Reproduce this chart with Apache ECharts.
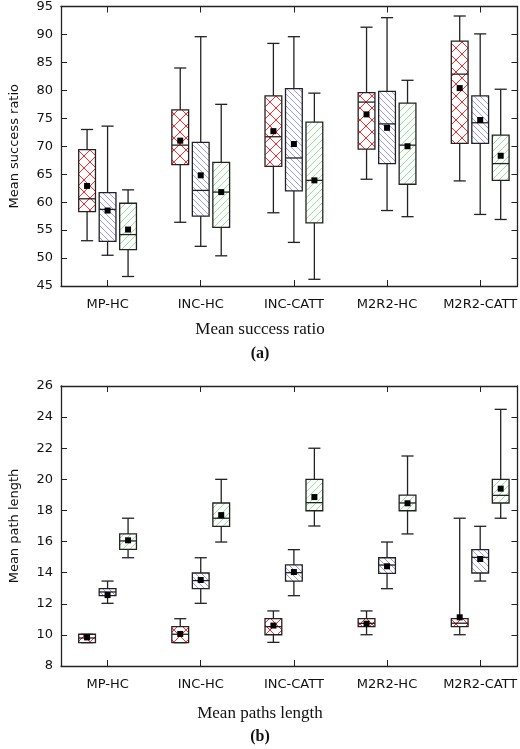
<!DOCTYPE html>
<html><head><meta charset="utf-8">
<script src="https://cdn.jsdelivr.net/npm/echarts@6/dist/echarts.min.js"></script>
<style>html,body{margin:0;padding:0;background:#fff}#c{width:520px;height:749px}</style>
</head><body><div id="c"></div>
<script>
const categories = ['MP-HC','INC-HC','INC-CATT','M2R2-HC','M2R2-CATT'];
// each: [min, q1, median, q3, max, mean] for methods A (red), B (blue), C (green)
const ratioA = [[53.1,58.3,60.6,69.4,73.0,62.9],[56.4,66.7,70.2,76.5,84.0,71.0],[58.1,66.4,71.7,79.0,88.4,72.7],[64.1,69.5,77.9,79.6,91.3,75.7],[63.8,70.5,82.9,88.8,93.3,80.4]];
const ratioB = [[50.5,53.0,58.7,61.7,73.6,58.5],[52.1,57.5,62.1,70.7,89.6,64.8],[52.8,62.0,67.9,80.3,89.6,70.4],[58.5,66.9,74.0,79.8,93.0,73.3],[57.8,70.5,74.2,79.0,90.1,74.7]];
const ratioC = [[46.7,51.5,54.2,59.8,62.2,55.1],[50.4,55.5,61.8,67.1,77.5,61.8],[46.2,56.3,63.9,74.3,79.5,63.9],[57.4,63.2,70.2,77.7,81.8,70.0],[56.9,63.9,66.9,72.0,80.2,68.3]];
const lenA = [[9.5,9.5,9.8,10.04,10.04,9.84],[9.5,9.5,10.04,10.53,11.04,10.06],[9.52,10.01,10.53,11.04,11.54,10.6],[10.01,10.53,10.74,11.04,11.54,10.72],[10.01,10.53,10.75,11.04,17.5,11.13]];
const lenB = [[12.03,12.52,12.76,12.97,13.46,12.56],[12.03,12.97,13.49,13.98,14.96,13.53],[12.52,13.46,14.0,14.5,15.48,14.04],[12.97,13.96,14.49,14.96,15.97,14.41],[13.46,13.98,14.98,15.48,16.98,14.88]];
const lenC = [[14.96,15.5,16.04,16.49,17.5,16.08],[15.97,16.98,17.5,18.48,20.0,17.7],[17.0,17.98,18.5,20.0,22.0,18.86],[16.49,17.98,18.48,18.99,21.5,18.46],[17.5,18.48,18.97,20.0,24.5,19.4]];
const ratioTicks = [45,50,55,60,65,70,75,80,85,90,95];
const lenTicks = [8,10,12,14,16,18,20,22,24,26];

function pat(kind){
  const c=document.createElement('canvas');
  let n = kind==='x'?12:(kind==='b'?6:7);
  c.width=n;c.height=n;const g=c.getContext('2d');
  g.lineWidth=1;
  g.strokeStyle = kind==='x'?'#ff2a2a':(kind==='b'?'#9a9af0':'#8fe88f');
  g.beginPath();
  if(kind==='x'||kind==='b'){g.moveTo(-1,-1);g.lineTo(n+1,n+1);}
  if(kind==='x'||kind==='g'){g.moveTo(-1,n+1);g.lineTo(n+1,-1);}
  g.stroke();
  return {image:c,repeat:'repeat'};
}
const pats={x:pat('x'),b:pat('b'),g:pat('g')};
const offs=[-0.22,0,0.22];

function mk(arr,k,grid){
  return {type:'custom',xAxisIndex:grid*2,yAxisIndex:grid*2,
    data:arr.map((d,i)=>[i+offs[k]].concat(d)),
    renderItem:function(p,api){
      const x=api.value(0);
      const w=api.size([0.18,0])[0], cw=api.size([0.13,0])[0];
      const P=j=>api.coord([x,api.value(j)]);
      const mn=P(1),q1=P(2),md=P(3),q3=P(4),mx=P(5),me=P(6);
      const cx=mn[0];const ls={stroke:'#222',lineWidth:1.3,fill:null};
      return {type:'group',children:[
        {type:'line',shape:{x1:cx,y1:mx[1],x2:cx,y2:q3[1]},style:ls},
        {type:'line',shape:{x1:cx,y1:q1[1],x2:cx,y2:mn[1]},style:ls},
        {type:'line',shape:{x1:cx-cw/2,y1:mx[1],x2:cx+cw/2,y2:mx[1]},style:ls},
        {type:'line',shape:{x1:cx-cw/2,y1:mn[1],x2:cx+cw/2,y2:mn[1]},style:ls},
        {type:'rect',shape:{x:cx-w/2,y:q3[1],width:w,height:q1[1]-q3[1]},style:{fill:pats[['x','b','g'][k]],stroke:'#222',lineWidth:1.3}},
        {type:'line',shape:{x1:cx-w/2,y1:md[1],x2:cx+w/2,y2:md[1]},style:ls},
        {type:'rect',shape:{x:cx-3,y:me[1]-3,width:6,height:6},style:{fill:'#000'}}
      ]};
    }};
}
const lbl={fontFamily:'DejaVu Sans',fontSize:13,color:'#111'};
const line={show:true,onZero:false,lineStyle:{color:'#222',width:1.3}};
function axes(grid,ymin,ymax,yint,name){
  const xb={type:'value',gridIndex:grid,min:-0.5,max:4.4,axisLine:line,splitLine:{show:false}};
  const yb={type:'value',gridIndex:grid,min:ymin,max:ymax,interval:yint,axisLine:line,splitLine:{show:false}};
  return {
    x:[Object.assign({},xb,{position:'bottom',
        axisTick:{inside:true,length:6,customValues:[0,1,2,3,4],lineStyle:{color:'#222'}},
        axisLabel:Object.assign({customValues:[0,1,2,3,4],margin:12,formatter:v=>categories[Math.round(v)]},lbl)}),
       Object.assign({},xb,{position:'top',
        axisTick:{inside:true,length:6,customValues:[0,1,2,3,4],lineStyle:{color:'#222'}},axisLabel:{show:false}})],
    y:[Object.assign({},yb,{position:'left',name:name,nameLocation:'middle',nameGap:40,
        nameTextStyle:{fontFamily:'DejaVu Sans',fontSize:13,color:'#111'},
        axisTick:{inside:true,length:6,lineStyle:{color:'#222'}},axisLabel:Object.assign({margin:8},lbl)}),
       Object.assign({},yb,{position:'right',axisTick:{inside:true,length:6,lineStyle:{color:'#222'}},axisLabel:{show:false}})]
  };
}
const a1=axes(0,ratioTicks[0],ratioTicks[ratioTicks.length-1],5,'Mean success ratio');
const a2=axes(1,lenTicks[0],lenTicks[lenTicks.length-1],2,'Mean path length');
const serif={fontFamily:'Liberation Serif',fontSize:17,color:'#111',fontWeight:'normal'};
const chart=echarts.init(document.getElementById('c'));
chart.setOption({
  animation:false,
  grid:[{left:58,right:1,top:5,height:281},{left:58,right:1,top:386,height:280}],
  title:[
    {text:'Mean success ratio',left:'center',top:316,textStyle:serif},
    {text:'(a)',left:'center',top:341,textStyle:Object.assign({},serif,{fontWeight:'bold',fontSize:16})},
    {text:'Mean paths length',left:'center',top:700,textStyle:serif},
    {text:'(b)',left:'center',top:724,textStyle:Object.assign({},serif,{fontWeight:'bold',fontSize:16})}
  ],
  xAxis:[a1.x[0],a1.x[1],Object.assign(a2.x[0],{gridIndex:1}),Object.assign(a2.x[1],{gridIndex:1})],
  yAxis:[a1.y[0],a1.y[1],a2.y[0],a2.y[1]],
  series:[mk(ratioA,0,0),mk(ratioB,1,0),mk(ratioC,2,0),mk(lenA,0,1),mk(lenB,1,1),mk(lenC,2,1)]
});
</script></body></html>
